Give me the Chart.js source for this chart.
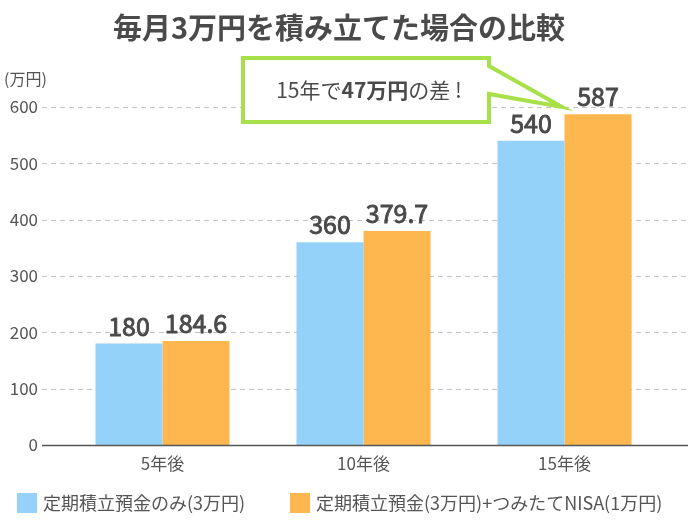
<!DOCTYPE html>
<html>
<head>
<meta charset="utf-8">
<script src="https://cdn.jsdelivr.net/npm/chart.js@4"></script>
<style>
  html, body { margin: 0; padding: 0; background: #fff; }
  #wrap { width: 700px; height: 530px; }
</style>
</head>
<body>
<div id="wrap"><canvas id="bar"></canvas></div>
<script>
var font = "'Noto Sans CJK JP', 'Noto Sans', sans-serif";
var textColor = "#4a4a4a";

var categories = ["5年後", "10年後", "15年後"];
var depositOnly = [180, 360, 540];
var depositNisa = [184.6, 379.7, 587];
var seriesNames = ["定期積立預金のみ(3万円)", "定期積立預金(3万円)+つみたてNISA(1万円)"];
var seriesColors = ["#94d2fa", "#fdb74e"];
var yTicks = [0, 100, 200, 300, 400, 500, 600];

// extended dashed grid, axis line, titles, value labels, callout, legend
var decor = {
    id: "decor",
    beforeDatasetsDraw: function (chart) {
        var ctx = chart.ctx;
        var y = chart.scales.y;
        ctx.save();
        ctx.lineWidth = 1;
        ctx.strokeStyle = "#c4c4c4";
        ctx.setLineDash([5, 4]);
        yTicks.forEach(function (v) {
            if (v === 0) return;
            var py = Math.round(y.getPixelForValue(v)) + 0.5;
            ctx.beginPath();
            ctx.moveTo(42, py);
            ctx.lineTo(688, py);
            ctx.stroke();
        });
        ctx.restore();
    },
    afterDatasetsDraw: function (chart) {
        var ctx = chart.ctx;
        var y = chart.scales.y;
        ctx.save();
        // zero line
        var p0 = Math.round(y.getPixelForValue(0)) + 0.5;
        ctx.strokeStyle = "#555";
        ctx.lineWidth = 1.5;
        ctx.beginPath();
        ctx.moveTo(42, p0);
        ctx.lineTo(688, p0);
        ctx.stroke();

        // title
        ctx.fillStyle = textColor;
        ctx.font = "bold 29px " + font;
        ctx.textAlign = "center";
        ctx.textBaseline = "middle";
        ctx.fillText("毎月3万円を積み立てた場合の比較", 339, 28);

        // unit
        ctx.font = "16px " + font;
        ctx.textAlign = "left";
        ctx.fillStyle = "#555";
        ctx.fillText("(万円)", 4, 79);

        // value labels (medium-ish weight)
        ctx.fillStyle = textColor;
        ctx.strokeStyle = textColor;
        ctx.lineWidth = 0.9;
        ctx.font = "25px " + font;
        ctx.textAlign = "center";
        ctx.textBaseline = "alphabetic";
        chart.data.datasets.forEach(function (ds, i) {
            chart.getDatasetMeta(i).data.forEach(function (bar, j) {
                ctx.fillText(String(ds.data[j]), bar.x, bar.y - 8);
                ctx.strokeText(String(ds.data[j]), bar.x, bar.y - 8);
            });
        });

        // callout
        ctx.lineWidth = 4;
        ctx.strokeStyle = "#a8e04a";
        ctx.fillStyle = "#fff";
        ctx.lineJoin = "miter";
        ctx.beginPath();
        ctx.moveTo(243, 58);
        ctx.lineTo(489, 58);
        ctx.lineTo(489, 66);
        ctx.lineTo(562, 107);
        ctx.lineTo(489, 94);
        ctx.lineTo(489, 122);
        ctx.lineTo(243, 122);
        ctx.closePath();
        ctx.fill();
        ctx.stroke();

        var parts = [["15年で", "normal"], ["47万円", "bold"], ["の差", "normal"], [" !", "normal"]];
        var total = 0;
        parts.forEach(function (p) {
            ctx.font = p[1] + " 21px " + font;
            total += ctx.measureText(p[0]).width;
        });
        var x = 369 - total / 2;
        ctx.textAlign = "left";
        ctx.textBaseline = "middle";
        ctx.fillStyle = textColor;
        parts.forEach(function (p) {
            ctx.font = p[1] + " 21px " + font;
            ctx.fillText(p[0], x, 90);
            x += ctx.measureText(p[0]).width;
        });

        // legend
        var lx = [17, 290];
        ctx.font = "18px " + font;
        chart.data.datasets.forEach(function (ds, i) {
            ctx.fillStyle = ds.backgroundColor;
            ctx.fillRect(lx[i], 493, 20, 20);
            ctx.fillStyle = "#555";
            ctx.fillText(ds.label, lx[i] + 26, 503);
        });
        ctx.restore();
    }
};

var bCtx = document.getElementById("bar").getContext("2d");
var bar = new Chart(bCtx, {
    type: "bar",
    data: {
        labels: categories,
        datasets: [
            {
                label: seriesNames[0],
                data: depositOnly,
                backgroundColor: seriesColors[0],
            },
            {
                label: seriesNames[1],
                data: depositNisa,
                backgroundColor: seriesColors[1],
            },
        ],
    },
    plugins: [decor],
    options: {
        responsive: true,
        maintainAspectRatio: false,
        animation: false,
        categoryPercentage: 0.667,
        barPercentage: 1,
        layout: {
            padding: { top: 107, right: 35, left: 0, bottom: 55 },
        },
        plugins: {
            legend: { display: false },
            tooltip: { enabled: false },
        },
        scales: {
            y: {
                min: 0,
                max: 600,
                afterBuildTicks: function (axis) {
                    axis.ticks = yTicks.map(function (v) { return { value: v }; });
                },
                afterFit: function (axis) { axis.width = 62; },
                grid: { display: false, drawTicks: false },
                border: { display: false },
                ticks: {
                    padding: 24,
                    color: "#555",
                    font: { family: font, size: 17 },
                },
            },
            x: {
                afterFit: function (axis) { axis.height = 30; },
                grid: { display: false, drawTicks: false },
                border: { display: false },
                ticks: {
                    padding: 8,
                    color: "#555",
                    font: { family: font, size: 17 },
                },
            },
        },
    },
});
</script>
</body>
</html>
